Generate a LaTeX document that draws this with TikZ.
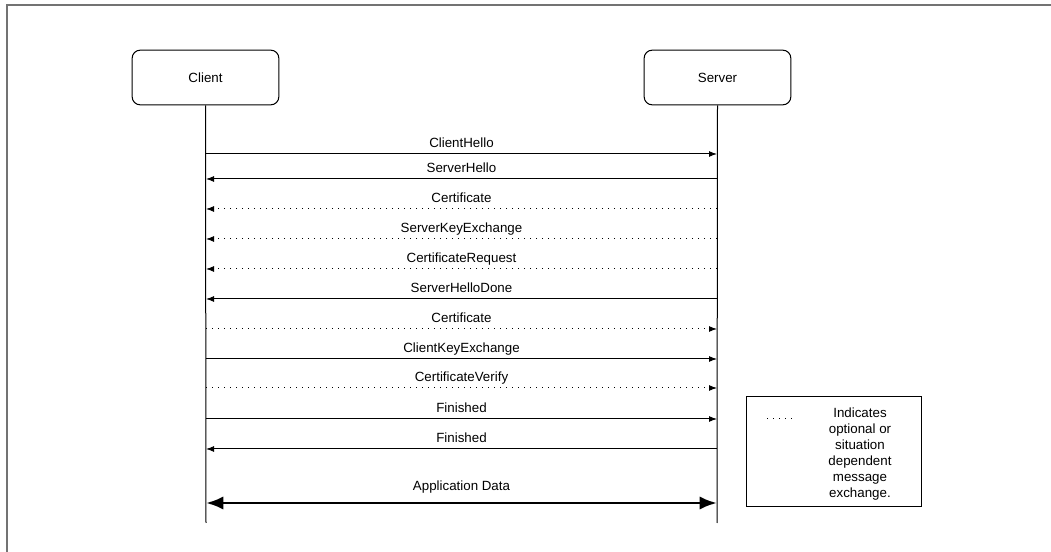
\documentclass[tikz,border=0pt]{standalone}
\usepackage{fontspec}
\setmainfont{Liberation Sans}
\usetikzlibrary{arrows.meta}
\begin{document}
\begin{tikzpicture}[x=0.75pt,y=-0.75pt,
  font=\fontsize{10}{12}\selectfont,
  party/.style={draw, line width=0.75pt, rounded corners=6pt, minimum width=110pt, minimum height=41pt, inner sep=0pt},
  life/.style={line width=0.75pt},
  msg/.style={line width=0.75pt, -{Latex[length=6pt,width=4.5pt]}},
  opt/.style={msg, dash pattern=on 0.75pt off 3.75pt},
  lbl/.style={anchor=base, inner sep=0pt},
  big/.style={line width=2.2pt, {Latex[length=13pt,width=10pt]}-{Latex[length=13pt,width=10pt]}},
  frame/.style={draw=black!55, line width=1.5pt}]
\useasboundingbox (0,0) rectangle (1051,552);
\draw[frame] (6.5,552) -- (6.5,5.5) -- (1051,5.5);
\node[party] (client) at (205.5,77.5) {Client};
\node[party] (server) at (717.5,77.5) {Server};
\coordinate (cend) at (206,523);
\coordinate (send) at (717,523);
\draw[life] (client.south) -- (cend);
\draw[life] (server.south) -- (send);
\foreach \i/\y in {1/154,2/179,3/209,4/239,5/269,6/299,7/329,8/359,9/388,10/419,11/449,12/503}{
  \coordinate (c\i) at (206,\y);
  \coordinate (s\i) at (717,\y);
}
\draw[msg] (c1) -- (s1) node[lbl, midway, yshift=4.5pt] {ClientHello};
\draw[msg] (s2) -- (c2) node[lbl, midway, yshift=4.5pt] {ServerHello};
\draw[opt] (s3) -- (c3) node[lbl, midway, yshift=4.5pt] {Certificate};
\draw[opt] (s4) -- (c4) node[lbl, midway, yshift=4.5pt] {ServerKeyExchange};
\draw[opt] (s5) -- (c5) node[lbl, midway, yshift=4.5pt] {CertificateRequest};
\draw[msg] (s6) -- (c6) node[lbl, midway, yshift=4.5pt] {ServerHelloDone};
\draw[opt] (c7) -- (s7) node[lbl, midway, yshift=4.5pt] {Certificate};
\draw[msg] (c8) -- (s8) node[lbl, midway, yshift=4.5pt] {ClientKeyExchange};
\draw[opt] (c9) -- (s9) node[lbl, midway, yshift=4.5pt] {CertificateVerify};
\draw[msg] (c10) -- (s10) node[lbl, midway, yshift=4.5pt] {Finished};
\draw[msg] (s11) -- (c11) node[lbl, midway, yshift=4.5pt] {Finished};
\draw[big] (c12) -- (s12) node[lbl, midway, yshift=9pt] {Application Data};
\node[draw, line width=0.75pt, minimum width=131.25pt, minimum height=82.5pt, inner sep=0pt] (legend) at (833.5,452) {};
\coordinate (d1) at (767,419);
\coordinate (d2) at (793,419);
\draw[line width=0.75pt, dash pattern=on 0.75pt off 3.75pt] (d1) -- (d2);
\node[align=center, inner sep=0pt, font=\fontsize{10}{12}\selectfont] (legtext) at (860,454) {Indicates\\optional or\\situation\\dependent\\message\\exchange.};
\end{tikzpicture}
\end{document}
